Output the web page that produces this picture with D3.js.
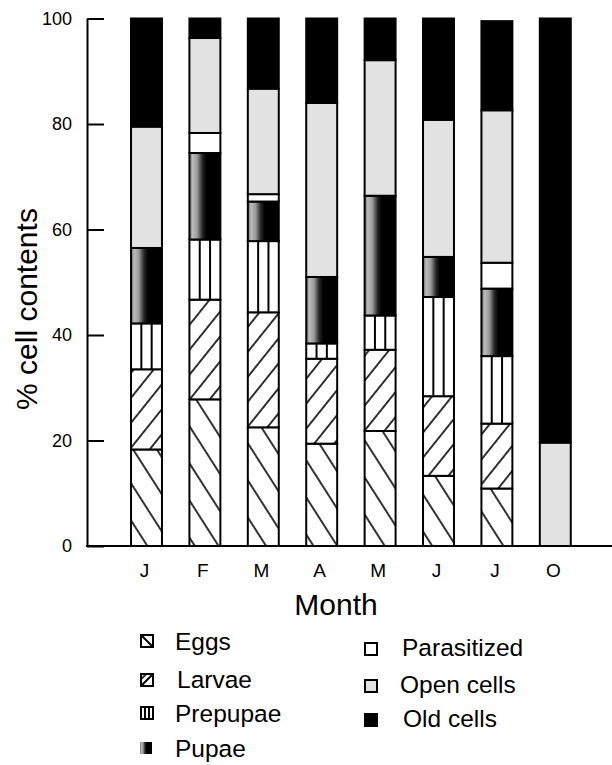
<!DOCTYPE html>
<html><head><meta charset="utf-8">
<script src="https://cdn.jsdelivr.net/npm/d3@7"></script>
<style>body{margin:0;background:#fff}svg{display:block}text{font-family:"Liberation Sans",Arial,sans-serif;fill:#000}</style>
</head><body>
<svg id="c" width="612" height="765"></svg>
<script>
const months = ["J","F","M","A","M","J","J","O"];
const seriesNames = ["Eggs","Larvae","Prepupae","Pupae","Parasitized","Open cells","Old cells"];
const eggs        = [18.3, 27.8, 22.5, 19.4, 21.8, 13.3, 10.9, 0];
const larvae      = [15.2, 18.9, 21.8, 16.1, 15.4, 15.1, 12.3, 0];
const prepupae    = [8.7, 11.4, 13.5, 2.9, 6.5, 18.8, 12.8, 0];
const pupae       = [14.3, 16.4, 7.5, 12.6, 22.7, 7.6, 12.8, 0];
const parasitized = [0, 3.8, 1.4, 0, 0, 0, 4.9, 0];
const openCells   = [23.0, 18.0, 20.0, 33.0, 25.7, 26.0, 28.9, 19.6];
const oldCells    = [20.5, 3.7, 13.3, 16.0, 7.9, 19.2, 16.9, 80.4];
const yTicks = [0, 20, 40, 60, 80, 100];

const keys = ["eggs","larvae","prepupae","pupae","parasitized","open","old"];
const table = months.map((m, i) => ({
  idx: i, month: m, eggs: eggs[i], larvae: larvae[i], prepupae: prepupae[i], pupae: pupae[i],
  parasitized: parasitized[i], open: openCells[i], old: oldCells[i]
}));

const svg = d3.select("#c");
const defs = svg.append("defs");

function hatch(id, angle, spacing) {
  const p = defs.append("pattern").attr("id", id).attr("patternUnits", "userSpaceOnUse")
    .attr("width", spacing).attr("height", spacing).attr("patternTransform", `rotate(${angle})`);
  p.append("rect").attr("width", spacing).attr("height", spacing).attr("fill", "#fff");
  p.append("line").attr("x1", spacing/2).attr("x2", spacing/2).attr("y1", -1).attr("y2", spacing+1)
    .attr("stroke", "#000").attr("stroke-width", 1.6);
}
hatch("eggsP", -32.6, 20);
hatch("larvaeP", 38.7, 15.6);
hatch("eggsL", -45, 40);
hatch("larvaeL", 45, 40);
const g = defs.append("linearGradient").attr("id", "pupaeG").attr("x1", 0).attr("x2", 1).attr("y1", 0).attr("y2", 0);
[[0,"#666"],[0.1,"#bcbcbc"],[0.25,"#9a9a9a"],[0.42,"#262626"],[0.55,"#000"],[1,"#000"]]
  .forEach(([o,c]) => g.append("stop").attr("offset", o).attr("stop-color", c));

const fills = {eggs:"url(#eggsP)", larvae:"url(#larvaeP)", prepupae:"#fff", pupae:"url(#pupaeG)",
  parasitized:"#fff", open:"#e2e2e2", old:"#000"};

const x = d3.scaleBand().domain(d3.range(months.length)).range([117.3, 584.5])
  .paddingInner(0.47).paddingOuter(0.235);
const y = d3.scaleLinear().domain([0, 100]).range([546, 18.5]);

const stack = d3.stack().keys(keys)(table);

const bars = svg.append("g");
stack.forEach(layer => {
  const key = layer.key;
  bars.append("g").selectAll("rect")
    .data(layer.filter(d => d[1] - d[0] > 0))
    .join("rect")
    .attr("x", d => x(d.data.idx))
    .attr("width", x.bandwidth())
    .attr("y", d => y(d[1]))
    .attr("height", d => y(d[0]) - y(d[1]))
    .attr("fill", fills[key])
    .attr("stroke", "#000").attr("stroke-width", 2);
  if (key === "prepupae") {
    const segs = layer.filter(d => d[1] - d[0] > 0);
    [1, 2].forEach(k => {
      bars.append("g").selectAll("line").data(segs).join("line")
        .attr("x1", d => x(d.data.idx) + x.bandwidth() * k / 3)
        .attr("x2", d => x(d.data.idx) + x.bandwidth() * k / 3)
        .attr("y1", d => y(d[1])).attr("y2", d => y(d[0]))
        .attr("stroke", "#000").attr("stroke-width", 2);
    });
  }
});

// Y axis
const yAxis = d3.axisLeft(y).tickValues(yTicks).tickSizeInner(-17).tickSizeOuter(0).tickPadding(15);
const ya = svg.append("g").attr("transform", "translate(87,0)").call(yAxis);
ya.select(".domain").attr("stroke-width", 2);
ya.selectAll(".tick line").attr("stroke-width", 2);
ya.selectAll(".tick text").attr("font-size", 18).attr("font-family", "Liberation Sans, Arial, sans-serif");

// X axis
const xAxis = d3.axisBottom(x).tickFormat(i => months[i]).tickSize(0).tickPadding(18);
const xa = svg.append("g").attr("transform", "translate(-2,546)").call(xAxis);
xa.select(".domain").remove();
xa.selectAll(".tick text").attr("font-size", 19).attr("font-family", "Liberation Sans, Arial, sans-serif");
svg.append("line").attr("x1", 86).attr("x2", 612).attr("y1", 546).attr("y2", 546)
  .attr("stroke", "#000").attr("stroke-width", 2);

// titles
svg.append("text").attr("x", 336).attr("y", 615).attr("text-anchor", "middle")
  .attr("font-size", 30).text("Month");
svg.append("text").attr("transform", "translate(37,309) rotate(-90)").attr("text-anchor", "middle")
  .attr("font-size", 30).text("% cell contents");

// legend
const legendFills = {eggs:"url(#eggsL)", larvae:"url(#larvaeL)", prepupae:"#fff", pupae:"url(#pupaeG)",
  parasitized:"#fff", open:"#e2e2e2", old:"#000"};
const legendPos = [
  {ix:141, iy:635, tx:175, ty:650},
  {ix:141, iy:674, tx:177, ty:688},
  {ix:141, iy:707, tx:175, ty:722},
  {ix:140, iy:742, tx:175, ty:757},
  {ix:365, iy:643, tx:402, ty:656},
  {ix:365, iy:680, tx:400, ty:693},
  {ix:365, iy:714, tx:403, ty:727}
];
const lg = svg.append("g");
keys.forEach((k, i) => {
  const p = legendPos[i];
  const s = 12;
  lg.append("rect").attr("x", p.ix).attr("y", p.iy).attr("width", s).attr("height", s)
    .attr("fill", legendFills[k]).attr("stroke", k === "pupae" ? "none" : "#000").attr("stroke-width", 2);
  if (k === "eggs") lg.append("line").attr("x1", p.ix).attr("y1", p.iy).attr("x2", p.ix+s).attr("y2", p.iy+s).attr("stroke","#000").attr("stroke-width",2);
  if (k === "larvae") lg.append("line").attr("x1", p.ix).attr("y1", p.iy+s).attr("x2", p.ix+s).attr("y2", p.iy).attr("stroke","#000").attr("stroke-width",2);
  if (k === "prepupae") [1,2].forEach(j => lg.append("line").attr("x1", p.ix+s*j/3).attr("x2", p.ix+s*j/3)
    .attr("y1", p.iy).attr("y2", p.iy+s).attr("stroke","#000").attr("stroke-width",2));
  lg.append("text").attr("x", p.tx).attr("y", p.ty).attr("font-size", 24.5).text(seriesNames[i]);
});
</script>
</body></html>
